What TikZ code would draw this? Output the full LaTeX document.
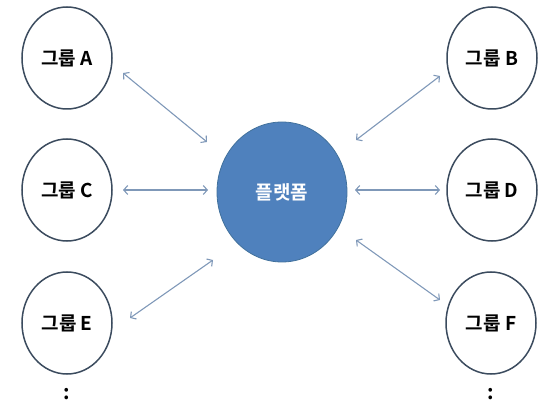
\documentclass[tikz,border=0pt]{standalone}
\usepackage{fontspec}
\newfontfamily\kr{Noto Sans CJK KR}[BoldFont={* Bold}]
\usetikzlibrary{arrows.meta,shapes.geometric}
\definecolor{grpline}{HTML}{3B4B5E}
\definecolor{platfill}{HTML}{4F81BD}
\definecolor{platline}{HTML}{41719C}
\definecolor{arrcol}{HTML}{7F98B8}
\tikzset{
  grp/.style={ellipse, draw=grpline, line width=1.5pt, fill=white, minimum width=90pt, minimum height=102pt, inner sep=0pt, font=\kr\bfseries\fontsize{19}{22}\selectfont},
  plat/.style={ellipse, fill=platfill, draw=platline, line width=0.8pt, minimum width=130pt, minimum height=140pt, inner sep=0pt, text=white, font=\kr\bfseries\fontsize{19}{22}\selectfont},
  link/.style={draw=arrcol, line width=1.1pt, {Straight Barb[length=4pt,width=9pt]}-{Straight Barb[length=4pt,width=9pt]}},
  dots/.style={font=\kr\bfseries\fontsize{20}{22}\selectfont, inner sep=0pt}
}
\begin{document}
\begin{tikzpicture}[x=1pt,y=-1pt]
\useasboundingbox (0,0) rectangle (542,401);
\node[plat] (p) at (282,192) {플랫폼};
\node[grp] (a) at (67,58) {그룹 A};
\node[grp] (c) at (67,190) {그룹 C};
\node[grp] (e) at (67,323) {그룹 E};
\node[grp] (b) at (492,58) {그룹 B};
\node[grp] (d) at (492,190) {그룹 D};
\node[grp] (f) at (491,323) {그룹 F};
\node[dots] (de) at (67,394) {:};
\node[dots] (df) at (491,394) {:};
\coordinate (a1) at (123,73); \coordinate (a2) at (207,142);
\coordinate (b1) at (440,76); \coordinate (b2) at (356,140);
\coordinate (c1) at (123,190); \coordinate (c2) at (208,190);
\coordinate (d1) at (440,190); \coordinate (d2) at (355,190);
\coordinate (e1) at (130,318); \coordinate (e2) at (213,260);
\coordinate (f1) at (440,300); \coordinate (f2) at (356,240);
\draw[link] (a1) -- (a2);
\draw[link] (b1) -- (b2);
\draw[link] (c1) -- (c2);
\draw[link] (d1) -- (d2);
\draw[link] (e1) -- (e2);
\draw[link] (f1) -- (f2);
\end{tikzpicture}
\end{document}
